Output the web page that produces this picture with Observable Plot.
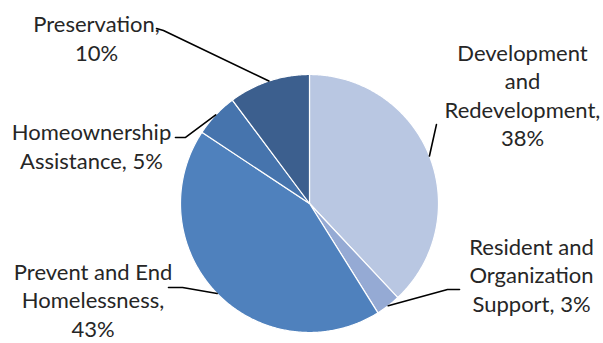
<!DOCTYPE html>
<html>
<head>
<meta charset="utf-8">
<script src="https://cdn.jsdelivr.net/npm/d3@7"></script>
<script src="https://cdn.jsdelivr.net/npm/@observablehq/plot@0.6"></script>
<style>
  html, body { margin: 0; padding: 0; background: #fff; }
  #chart svg { display: block; }
</style>
</head>
<body>
<div id="chart"></div>
<script>
// ---- data (clockwise from 12 o'clock) ----
const categories = [
  "Development and Redevelopment",
  "Resident and Organization Support",
  "Prevent and End Homelessness",
  "Homeownership Assistance",
  "Preservation"
];
const values = [38.0, 3.1, 43.2, 5.5, 10.2];
const labelTexts = [
  "Development\nand\nRedevelopment,\n38%",
  "Resident and\nOrganization\nSupport, 3%",
  "Prevent and End\nHomelessness,\n43%",
  "Homeownership\nAssistance, 5%",
  "Preservation,\n10%"
];
const colors = ["#B9C7E2", "#95AAD4", "#4F81BD", "#4674AD", "#3C5F8E"];

// ---- label layout (in the unit-circle coordinate space) ----
const labelPos = [[1.651, 0.847], [1.721, -0.549], [-1.678, -0.742], [-1.690, 0.451], [-1.651, 1.288]];
const leaderElbows = [
  [[0.984, 0.612]],
  [[1.163, -0.667], [1.070, -0.667]],
  [[-1.093, -0.651], [-0.984, -0.651]],
  [[-1.039, 0.512], [-0.961, 0.512]],
  [[-1.186, 1.357], [-1.132, 1.341]]
];

// ---- geometry from values ----
const total = d3.sum(values);
const arcs = [];
let acc = 0;
values.forEach((v, i) => {
  const a0 = acc / total * 2 * Math.PI;
  acc += v;
  const a1 = acc / total * 2 * Math.PI;
  arcs.push({cat: categories[i], a0, a1, mid: (a0 + a1) / 2});
});

const slicePts = [];
arcs.forEach(a => {
  slicePts.push({cat: a.cat, x: 0, y: 0});
  const n = Math.max(4, Math.ceil((a.a1 - a.a0) / (Math.PI / 360)));
  for (let k = 0; k <= n; k++) {
    const t = a.a0 + (a.a1 - a.a0) * k / n;
    slicePts.push({cat: a.cat, x: Math.sin(t), y: Math.cos(t)});
  }
});

const leaderPts = [];
arcs.forEach((a, i) => {
  leaderElbows[i].forEach(p => leaderPts.push({cat: a.cat, x: p[0], y: p[1]}));
  leaderPts.push({cat: a.cat, x: Math.sin(a.mid), y: Math.cos(a.mid)});
});

const labels = categories.map((c, i) => ({cat: c, text: labelTexts[i], x: labelPos[i][0], y: labelPos[i][1]}));

const R = 129;
const cx = 309, cy = 203;
const W = 603, H = 343;

const chart = Plot.plot({
  width: W,
  height: H,
  marginLeft: cx - R,
  marginRight: W - (cx + R),
  marginTop: cy - R,
  marginBottom: H - (cy + R),
  x: {domain: [-1, 1], axis: null},
  y: {domain: [-1, 1], axis: null},
  color: {domain: categories, range: colors},
  style: {fontFamily: "Lato, sans-serif", background: "#fff", overflow: "visible"},
  marks: [
    Plot.line(slicePts, {x: "x", y: "y", z: "cat", fill: "cat", stroke: "#ffffff", strokeWidth: 1.2, strokeLinejoin: "round", curve: "linear-closed"}),
    Plot.line(leaderPts, {x: "x", y: "y", z: "cat", stroke: "#000", strokeWidth: 1.6}),
    Plot.text(labels, {x: "x", y: "y", text: "text", textAnchor: "middle", lineAnchor: "middle", lineHeight: 1.3, fontSize: 22, fill: "#262626"})
  ]
});
document.getElementById("chart").appendChild(chart);
</script>
</body>
</html>
